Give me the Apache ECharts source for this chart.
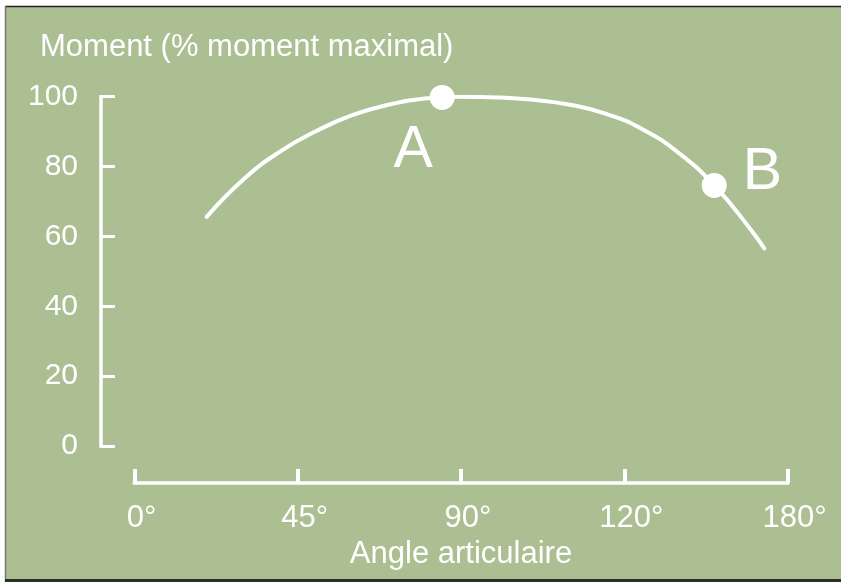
<!DOCTYPE html>
<html>
<head>
<meta charset="utf-8">
<script src="https://cdn.jsdelivr.net/npm/echarts@6/dist/echarts.min.js"></script>
<style>
  html, body { margin: 0; padding: 0; background: #ffffff; }
  #chart { width: 841px; height: 582px; }
</style>
</head>
<body>
<div id="chart"></div>
<script>
// Torque–angle curve (moment as % of maximal moment vs joint angle)
const curveAngles = [19.9, 30, 40, 50, 60, 70, 80, 90, 100, 110, 120, 130, 140, 150, 160, 170, 173.6];
const curveMoments = [65.6, 76.3, 84.2, 90.1, 94.7, 97.7, 99.5, 100.0, 99.8, 99.1, 97.7, 95.1, 90.7, 83.9, 74.4, 61.8, 56.6];

// Highlighted points on the curve
const pointNames = ['A', 'B'];
const pointAngles = [84.8, 159.8];
const pointMoments = [99.8, 74.6];

// Axis tick labels
const xTickValues = [0, 45, 90, 135, 180];
const xTickLabels = ['0°', '45°', '90°', '120°', '180°'];
const yTickValues = [0, 20, 40, 60, 80, 100];

const GREEN = '#abbf93';
const WHITE = '#ffffff';
const FONT = 'Liberation Sans, Arial, sans-serif';

const chart = echarts.init(document.getElementById('chart'), null, { renderer: 'canvas' });

const curveData = curveAngles.map((a, i) => [a, curveMoments[i]]);
const pointData = pointAngles.map((a, i) => ({
  value: [a, pointMoments[i]],
  name: pointNames[i],
  label: i === 0
    ? { position: 'bottom', offset: [-29, 6] }
    : { position: 'right', offset: [11, -13] }
}));

chart.setOption({
  animation: false,
  backgroundColor: WHITE,
  graphic: [
    { type: 'rect', z: -10, silent: true, shape: { x: 5, y: 6, width: 836, height: 574 }, style: { fill: GREEN } },
    { type: 'line', z: -9, silent: true, shape: { x1: 5, y1: 6.5, x2: 841, y2: 6.5 }, style: { stroke: '#222', lineWidth: 1.5 } },
    { type: 'line', z: -9, silent: true, shape: { x1: 5.5, y1: 6, x2: 5.5, y2: 582 }, style: { stroke: '#777', lineWidth: 1.5 } },
    { type: 'rect', z: -9, silent: true, shape: { x: 5, y: 579, width: 836, height: 3 }, style: { fill: '#2b3027' } }
  ],
  title: {
    text: 'Moment (% moment maximal)',
    left: 35,
    top: 27,
    textStyle: { color: WHITE, fontSize: 31, fontWeight: 'normal', fontFamily: FONT }
  },
  grid: { left: 134.5, right: 53.5, top: 96.7, bottom: 136 },
  xAxis: {
    type: 'value',
    min: 0,
    max: 180,
    interval: 45,
    offset: 37,
    splitLine: { show: false },
    axisLine: { show: true, onZero: false, lineStyle: { color: WHITE, width: 3.5, cap: 'square' } },
    axisTick: { show: true, inside: true, length: 14, lineStyle: { color: WHITE, width: 4 } },
    axisLabel: {
      color: WHITE,
      fontSize: 31,
      fontFamily: FONT,
      margin: 20,
      padding: [0, 0, 0, 14],
      formatter: v => {
        const i = xTickValues.indexOf(v);
        return i >= 0 ? xTickLabels[i] : '';
      }
    },
    name: 'Angle articulaire',
    nameLocation: 'middle',
    nameGap: 56,
    nameTextStyle: { color: WHITE, fontSize: 31, fontFamily: FONT }
  },
  yAxis: {
    type: 'value',
    min: yTickValues[0],
    max: yTickValues[yTickValues.length - 1],
    interval: 20,
    offset: 33.5,
    splitLine: { show: false },
    axisLine: { show: true, onZero: false, lineStyle: { color: WHITE, width: 3.5, cap: 'square' } },
    axisTick: { show: true, inside: true, length: 14, lineStyle: { color: WHITE, width: 3 } },
    axisLabel: { color: WHITE, fontSize: 30, fontFamily: FONT, margin: 23 }
  },
  series: [
    {
      type: 'line',
      data: curveData,
      smooth: 0.5,
      showSymbol: false,
      silent: true,
      lineStyle: { color: WHITE, width: 4, cap: 'round' },
      z: 2
    },
    {
      type: 'scatter',
      data: pointData,
      symbol: 'circle',
      symbolSize: 25,
      silent: true,
      itemStyle: { color: WHITE, opacity: 1 },
      z: 3,
      label: {
        show: true,
        formatter: p => p.name,
        color: WHITE,
        fontSize: 59,
        fontFamily: FONT
      },
      emphasis: { disabled: true }
    }
  ]
});
</script>
</body>
</html>
